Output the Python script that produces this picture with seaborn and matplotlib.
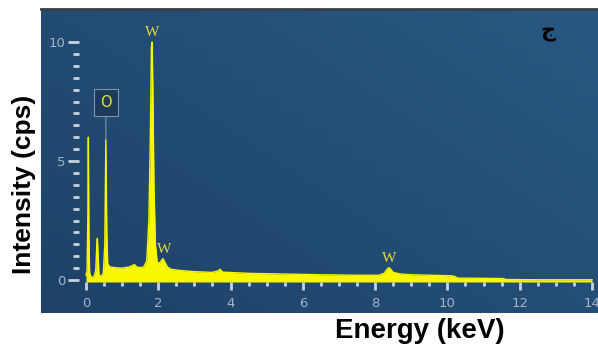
import numpy as np
import pandas as pd
import matplotlib
matplotlib.use("Agg")
import matplotlib.pyplot as plt
import seaborn as sns
from matplotlib.ticker import FixedLocator

# ---- data ----
energy = [0.00, 0.03, 0.05, 0.065, 0.08, 0.10, 0.15, 0.22, 0.27, 0.30, 0.315, 0.33, 0.36,
          0.42, 0.48, 0.52, 0.55, 0.575, 0.60, 0.65, 0.80, 1.00, 1.20, 1.30, 1.34, 1.40,
          1.50, 1.60, 1.68, 1.74, 1.78, 1.81, 1.83, 1.85, 1.88, 1.92, 1.97, 2.03, 2.08,
          2.13, 2.18, 2.25, 2.35, 2.60, 3.00, 3.50, 3.65, 3.71, 3.78, 4.50, 5.50, 6.50,
          7.50, 8.10, 8.25, 8.33, 8.38, 8.43, 8.50, 8.70, 9.00, 9.50, 10.10, 10.20, 10.28,
          11.00, 11.55, 11.62, 12.50, 14.00]
counts = [0.20, 0.40, 2.50, 6.00, 2.00, 0.30, 0.10, 0.15, 0.40, 1.50, 1.75, 1.20, 0.20,
          0.15, 0.30, 1.50, 5.90, 2.00, 0.70, 0.55, 0.52, 0.50, 0.55, 0.62, 0.65, 0.55,
          0.52, 0.55, 0.80, 2.50, 6.00, 9.80, 10.00, 8.00, 4.00, 1.50, 0.75, 0.70, 0.80,
          0.90, 0.75, 0.55, 0.45, 0.40, 0.35, 0.32, 0.38, 0.45, 0.33, 0.28, 0.25, 0.22,
          0.20, 0.20, 0.28, 0.45, 0.52, 0.45, 0.32, 0.25, 0.22, 0.20, 0.18, 0.15, 0.08,
          0.07, 0.06, 0.02, 0.01, 0.01]

peak_labels = ["W", "W", "W"]
peak_energy = [1.83, 2.17, 8.38]
peak_height = [10.0, 0.90, 0.52]

o_label = "O"
o_energy = 0.55
o_height = 5.9

x_ticks = [0, 2, 4, 6, 8, 10, 12, 14]
y_ticks = [0, 5, 10]

df = pd.DataFrame({"Energy": energy, "Counts": counts})

# ---- figure ----
W, H = 598, 347
fig = plt.figure(figsize=(W / 100, H / 100), dpi=100)
fig.patch.set_facecolor("white")

# blue panel with subtle gradient
bg = fig.add_axes([41 / W, 1 - 313 / H, (598 - 41) / W, (313 - 9) / H])
gx = np.linspace(0, 1, 200)
gy = np.linspace(0, 1, 120)
GX, GY = np.meshgrid(gx, gy)
t = 0.55 * GX + 0.45 * (1 - GY)
c0 = np.array([30, 66, 104]) / 255
c1 = np.array([40, 88, 130]) / 255
img = c0[None, None, :] * (1 - t[..., None]) + c1[None, None, :] * t[..., None]
bg.imshow(img, aspect="auto", extent=[0, 1, 0, 1], origin="upper")
bg.set_axis_off()
bg.plot([0, 1], [1, 1], color="#3a3f45", lw=2, transform=bg.transAxes, clip_on=False)

# main axes
px = 36.14  # pixels per keV
py = 23.8   # pixels per cps
ax = fig.add_axes([79 / W, 1 - 282 / H, (598 - 79) / W, (282 - 18) / H])
ax.patch.set_alpha(0)
for s in ax.spines.values():
    s.set_visible(False)
ax.set_xlim(-7 / px, (598 - 86) / px)
ax.set_ylim(-2 / py, (280 - 18) / py)

yellow = "#f7f700"
ax.fill_between(df["Energy"], df["Counts"], -2 / py, color=yellow, lw=0, zorder=2)
sns.lineplot(data=df, x="Energy", y="Counts", ax=ax, color=yellow, lw=1.0, zorder=3)

ax.set_xlabel("")
ax.set_ylabel("")

tick_c = "#c9d3dd"
lab_c = "#a3b4c6"
ax.xaxis.set_major_locator(FixedLocator(x_ticks))
ax.xaxis.set_minor_locator(FixedLocator(np.arange(0, 14.01, 0.5)))
ax.yaxis.set_major_locator(FixedLocator(y_ticks))
ax.yaxis.set_minor_locator(FixedLocator(np.arange(0.5, 10, 0.5)))
ax.set_xticklabels([str(v) for v in x_ticks])
ax.set_yticklabels([str(v) for v in y_ticks])
ax.tick_params(axis="x", which="major", length=6, width=2, color=tick_c,
               labelcolor=lab_c, labelsize=9.5, pad=5, direction="out")
ax.tick_params(axis="x", which="minor", length=3, width=2, color=tick_c, direction="out")
ax.tick_params(axis="y", which="major", length=8, width=2, color=tick_c,
               labelcolor=lab_c, labelsize=9.5, pad=2, direction="out")
ax.tick_params(axis="y", which="minor", length=4.3, width=2, color=tick_c, direction="out")

# peak labels
for lab, e, h in zip(peak_labels, peak_energy, peak_height):
    ax.text(e, h + 0.12, lab, ha="center", va="bottom", color="#e2da3a",
            fontsize=11, family="Liberation Serif", clip_on=False, zorder=4)

ax.annotate(o_label, xy=(o_energy, o_height), xytext=(o_energy, o_height + 1.55),
            ha="center", va="center", color="#e8e030", fontsize=10.5,
            family="DejaVu Sans",
            bbox=dict(boxstyle="square,pad=0.4", fc="#1d3a5a", ec="#7f93a8", lw=0.8),
            arrowprops=dict(arrowstyle="-", color="#7f93a8", lw=0.8,
                            shrinkA=0, shrinkB=0),
            zorder=5)

# axis titles
fig.text(24 / W, 1 - 184 / H, "Intensity (cps)", rotation=90, ha="center", va="center",
         fontsize=19, fontweight="bold", family="Liberation Sans", color="black")
fig.text(420 / W, 1 - 331 / H, "Energy (keV)", ha="center", va="center",
         fontsize=20, fontweight="bold", family="Liberation Sans", color="black")

# panel letter
fig.text(548 / W, 1 - 32 / H, "ج", ha="center", va="center", fontsize=15,
         fontweight="bold", family=["DejaVu Sans"], color="black")

fig.savefig("out.png", dpi=100)
